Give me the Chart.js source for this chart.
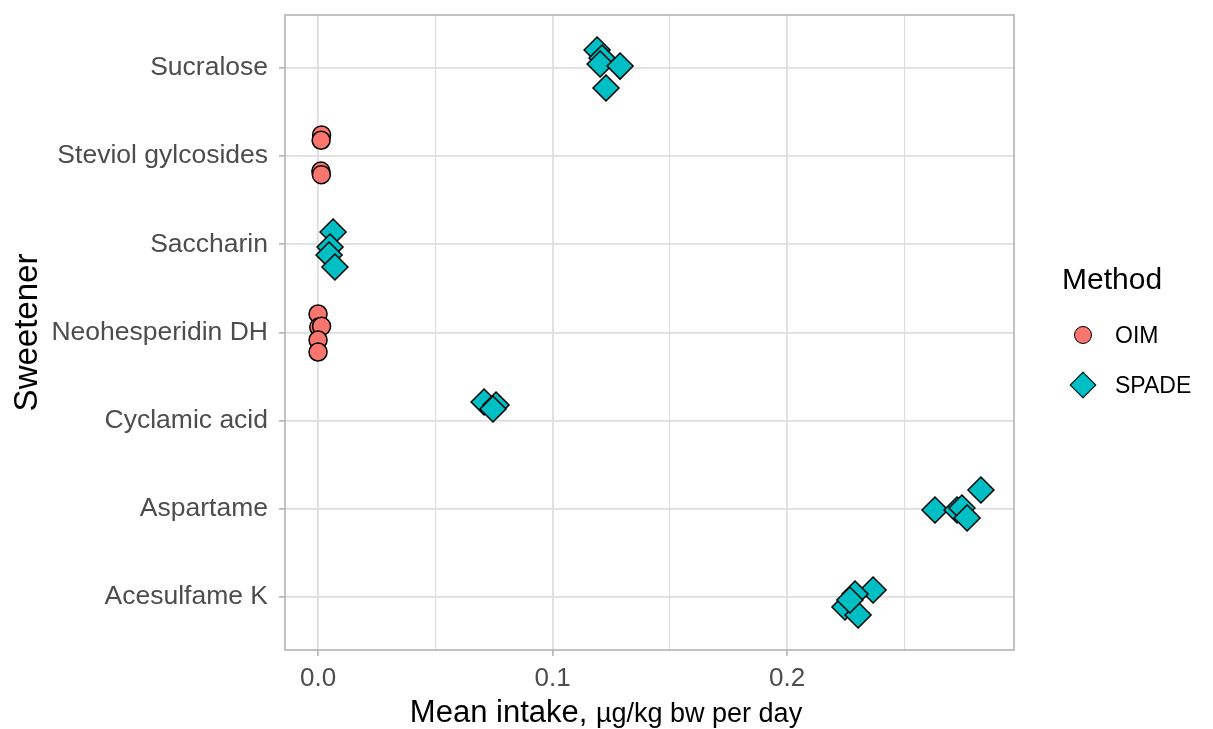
<!DOCTYPE html>
<html lang="en">
<head>
<meta charset="UTF-8">
<title>Sweetener intake by method</title>
<script src="https://cdn.jsdelivr.net/npm/chart.js"></script>
<style>
  body { margin: 0; background: #fff; font-family: "Liberation Sans", Arial, sans-serif; }
  .wrap { position: relative; width: 1213px; height: 729px; overflow: hidden; }
  .legend { position: absolute; left: 1062px; top: 262px; }
  .legend-title { font-size: 30px; color: #000; margin-bottom: 14px; }
  .legend-item { position: relative; height: 50px; }
  .legend-item span { position: absolute; left: 53px; top: 50%; transform: translateY(-50%); font-size: 23px; color: #000; }
  .key { position: absolute; left: 21px; top: 50%; transform: translate(-50%, -50%); border: 1.5px solid #000; box-sizing: border-box; }
  .key.oim { width: 18px; height: 18px; border-radius: 50%; background: #F8766D; }
  .key.spade { width: 19px; height: 19px; background: #00BFC4; transform: translate(-50%, -50%) rotate(45deg); }
  .xtitle { position: absolute; left: 606px; top: 694px; transform: translateX(-50%); font-size: 31px; color: #000; white-space: nowrap; }
  .xtitle small { font-size: 27px; }
</style>
</head>
<body>
<div class="wrap">
  <canvas id="intakeChart"></canvas>
  <div class="legend">
    <div class="legend-title">Method</div>
    <div class="legend-item"><div class="key oim"></div><span>OIM</span></div>
    <div class="legend-item"><div class="key spade"></div><span>SPADE</span></div>
  </div>
  <div class="xtitle">Mean intake, <small>µg/kg bw per day</small></div>
</div>
<script>
// categories, bottom to top
const sweeteners = ['Acesulfame K', 'Aspartame', 'Cyclamic acid', 'Neohesperidin DH', 'Saccharin', 'Steviol gylcosides', 'Sucralose'];
const xTicks = [0, 0.05, 0.1, 0.15, 0.2, 0.25];
const xTickLabels = ['0.0', '', '0.1', '', '0.2', ''];

// OIM points (jitter = vertical offset from the category line)
const oimSweetener = ['Steviol gylcosides', 'Steviol gylcosides', 'Steviol gylcosides', 'Steviol gylcosides',
  'Neohesperidin DH', 'Neohesperidin DH', 'Neohesperidin DH', 'Neohesperidin DH', 'Neohesperidin DH'];
const oimIntake = [0.0015, 0.0013, 0.0012, 0.0014, 0.0, 0.0003, 0.0015, 0.0, 0.0];
const oimJitter = [0.24, 0.18, -0.17, -0.21, 0.21, 0.062, 0.07, -0.085, -0.221];

// SPADE points
const spadeSweetener = ['Sucralose', 'Sucralose', 'Sucralose', 'Sucralose', 'Sucralose',
  'Saccharin', 'Saccharin', 'Saccharin', 'Saccharin',
  'Cyclamic acid', 'Cyclamic acid', 'Cyclamic acid',
  'Aspartame', 'Aspartame', 'Aspartame', 'Aspartame', 'Aspartame',
  'Acesulfame K', 'Acesulfame K', 'Acesulfame K', 'Acesulfame K', 'Acesulfame K'];
const spadeIntake = [0.119, 0.1211, 0.1203, 0.1288, 0.1228,
  0.0064, 0.0051, 0.0047, 0.0072,
  0.0708, 0.0759, 0.0746,
  0.2631, 0.2725, 0.2746, 0.2768, 0.2827,
  0.2367, 0.229, 0.2247, 0.2303, 0.2268];
const spadeJitter = [0.203, 0.112, 0.044, 0.021, -0.228,
  0.139, -0.031, -0.122, -0.258,
  0.212, 0.178, 0.132,
  -0.013, -0.013, 0.01, -0.103, 0.214,
  0.08, 0.035, -0.112, -0.203, -0.033];

function toPoints(names, values, jitter) {
  return values.map((v, i) => ({ x: v, y: sweeteners.indexOf(names[i]) + 1 + jitter[i] }));
}

const font = '"Liberation Sans", Arial, sans-serif';
const gridColor = '#dedede';
const frameColor = '#b3b3b3';

// panel border on all four sides, drawn over everything like ggplot
const panelBorder = {
  id: 'panelBorder',
  afterDraw(chart) {
    const { ctx, chartArea: a } = chart;
    ctx.save();
    ctx.strokeStyle = frameColor;
    ctx.lineWidth = 1.6;
    ctx.strokeRect(a.left, a.top, a.right - a.left, a.bottom - a.top);
    ctx.restore();
  }
};

new Chart(document.getElementById('intakeChart'), {
  type: 'scatter',
  data: {
    datasets: [
      {
        label: 'OIM',
        data: toPoints(oimSweetener, oimIntake, oimJitter),
        pointStyle: 'circle',
        pointRadius: 9,
        backgroundColor: '#F8766D',
        borderColor: '#000',
        borderWidth: 1.5
      },
      {
        label: 'SPADE',
        data: toPoints(spadeSweetener, spadeIntake, spadeJitter),
        pointStyle: 'rectRot',
        pointRadius: 13,
        backgroundColor: '#00BFC4',
        borderColor: '#000',
        borderWidth: 1.5
      }
    ]
  },
  options: {
    responsive: true,
    maintainAspectRatio: false,
    animation: false,
    layout: { padding: { top: 15, right: 199, bottom: 0, left: 0 } },
    plugins: { legend: { display: false }, tooltip: { enabled: false } },
    scales: {
      x: {
        type: 'linear',
        min: -0.0141,
        max: 0.2968,
        afterBuildTicks: s => { s.ticks = xTicks.map(v => ({ value: v })); },
        afterFit: s => { s.height = 79; s.paddingLeft = 0; s.paddingRight = 0; },
        ticks: {
          callback: (v, i) => xTickLabels[i],
          font: { family: font, size: 26 },
          color: '#4d4d4d',
          padding: 7,
          maxRotation: 0,
          autoSkip: false
        },
        grid: {
          color: gridColor,
          lineWidth: c => (c.index % 2 === 0 ? 1.8 : 1.1),
          tickColor: c => (c.index % 2 === 0 ? frameColor : 'rgba(0,0,0,0)'),
          tickWidth: 1.6,
          tickLength: 6
        },
        border: { display: false }
      },
      y: {
        type: 'linear',
        min: 0.4,
        max: 7.6,
        afterBuildTicks: s => { s.ticks = sweeteners.map((n, i) => ({ value: i + 1 })); },
        afterFit: s => { s.width = 285; s.paddingTop = 0; s.paddingBottom = 0; },
        ticks: {
          callback: (v, i) => sweeteners[i],
          font: { family: font, size: 26.5 },
          color: '#4d4d4d',
          padding: 11,
          autoSkip: false
        },
        grid: {
          color: gridColor,
          lineWidth: 1.8,
          tickColor: frameColor,
          tickWidth: 1.6,
          tickLength: 6
        },
        border: { display: false },
        title: {
          display: true,
          text: 'Sweetener',
          font: { family: font, size: 33 },
          color: '#000',
          padding: { top: 8, bottom: 0 }
        }
      }
    }
  },
  plugins: [panelBorder]
});
</script>
</body>
</html>
